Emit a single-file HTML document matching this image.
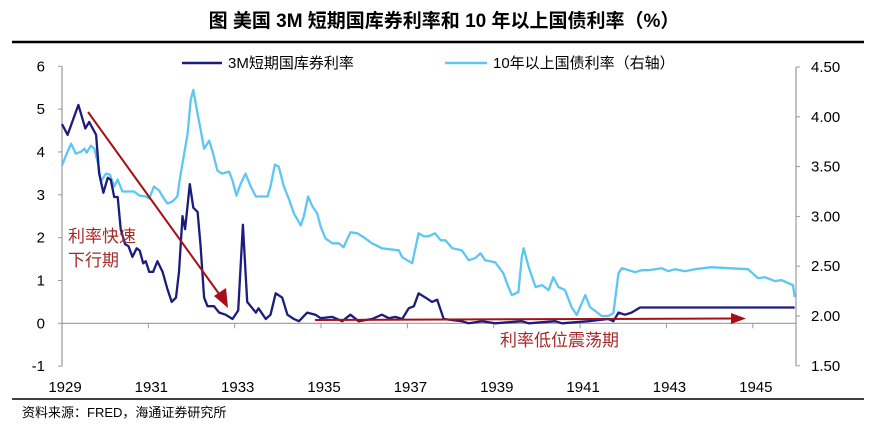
<!DOCTYPE html>
<html><head><meta charset="utf-8"><style>
body{margin:0;background:#fff;}
svg text{font-family:"Liberation Sans","Noto Sans CJK SC",sans-serif;}
</style></head><body>
<svg width="888" height="433" xmlns="http://www.w3.org/2000/svg">
<text x="444" y="27" text-anchor="middle" font-size="19" font-weight="bold" fill="#000">图  美国 3M 短期国库券利率和 10 年以上国债利率（%）</text>
<line x1="12" y1="42" x2="864" y2="42" stroke="#000" stroke-width="2.5"/>
<line x1="12" y1="399" x2="864" y2="399" stroke="#000" stroke-width="1.5"/>
<text x="22" y="417" font-size="13" fill="#000">资料来源：FRED，海通证券研究所</text>
<g id="axes"></g>
<g id="series"></g>
<g>
<line x1="182" y1="63" x2="222" y2="63" stroke="#1c1c7e" stroke-width="2.5"/>
<text x="228" y="68" font-size="15">3M短期国库券利率</text>
<line x1="445" y1="63" x2="487" y2="63" stroke="#5ec6f2" stroke-width="2.5"/>
<text x="493" y="68" font-size="15">10年以上国债利率（右轴）</text>
</g>
<g>
<line x1="88" y1="112" x2="222" y2="298" stroke="#a50f15" stroke-width="2"/>
<polygon points="228,308 214,296 226,288" fill="#a50f15"/>
<text x="68" y="242" font-size="17" fill="#a52a2a">利率快速</text>
<text x="68" y="266" font-size="17" fill="#a52a2a">下行期</text>
<line x1="315" y1="320" x2="732" y2="318.5" stroke="#a50f15" stroke-width="2"/>
<polygon points="746,318.5 731,313 731,324" fill="#a50f15"/>
<text x="500" y="346" font-size="17" fill="#a52a2a">利率低位震荡期</text>
</g>
</svg>
<script>
const shortYears=[1929.00,1929.13,1929.38,1929.54,1929.63,1929.79,1929.86,1929.96,1930.06,1930.13,1930.21,1930.29,1930.36,1930.46,1930.54,1930.63,1930.73,1930.80,1930.88,1930.94,1931.02,1931.11,1931.21,1931.33,1931.44,1931.54,1931.64,1931.71,1931.79,1931.85,1931.96,1932.04,1932.14,1932.21,1932.29,1932.37,1932.52,1932.64,1932.79,1932.95,1933.08,1933.19,1933.29,1933.41,1933.49,1933.55,1933.72,1933.83,1933.95,1934.10,1934.22,1934.37,1934.49,1934.68,1934.87,1934.99,1935.26,1935.49,1935.68,1935.87,1936.18,1936.41,1936.57,1936.72,1936.88,1937.03,1937.15,1937.26,1937.42,1937.57,1937.69,1937.84,1938.26,1938.42,1938.73,1939.03,1939.65,1939.81,1940.42,1940.58,1941.19,1941.65,1941.77,1941.89,1942.04,1942.19,1942.39,1945.97];
const shortRates=[4.65,4.40,5.10,4.55,4.70,4.40,3.50,3.05,3.40,3.35,2.95,2.95,2.20,1.85,1.80,1.55,1.75,1.70,1.40,1.45,1.20,1.20,1.45,1.20,0.80,0.50,0.60,1.20,2.50,2.20,3.25,2.70,2.60,1.80,0.60,0.40,0.40,0.25,0.20,0.10,0.30,2.30,0.50,0.35,0.25,0.35,0.10,0.20,0.70,0.60,0.20,0.10,0.05,0.25,0.20,0.12,0.15,0.05,0.20,0.05,0.10,0.20,0.12,0.15,0.10,0.35,0.40,0.70,0.60,0.50,0.55,0.10,0.05,0.00,0.05,0.00,0.05,0.00,0.05,0.00,0.05,0.10,0.05,0.25,0.20,0.25,0.37,0.37];
const longYears=[1929.00,1929.09,1929.21,1929.32,1929.44,1929.52,1929.57,1929.67,1929.75,1929.85,1929.90,1930.02,1930.11,1930.21,1930.29,1930.40,1930.67,1930.79,1930.94,1931.02,1931.13,1931.25,1931.33,1931.44,1931.56,1931.67,1931.75,1931.83,1931.91,1931.98,1932.04,1932.14,1932.21,1932.29,1932.41,1932.48,1932.60,1932.71,1932.87,1932.95,1933.04,1933.14,1933.25,1933.37,1933.49,1933.76,1933.83,1933.93,1934.02,1934.14,1934.26,1934.37,1934.53,1934.60,1934.70,1934.80,1934.91,1934.99,1935.10,1935.26,1935.41,1935.52,1935.68,1935.84,1935.99,1936.18,1936.41,1936.80,1936.88,1937.11,1937.26,1937.38,1937.49,1937.64,1937.77,1937.88,1938.04,1938.26,1938.42,1938.57,1938.69,1938.80,1939.03,1939.22,1939.34,1939.42,1939.57,1939.65,1939.69,1939.81,1939.97,1940.12,1940.27,1940.38,1940.50,1940.65,1940.80,1940.92,1941.12,1941.23,1941.50,1941.65,1941.77,1941.89,1941.97,1942.12,1942.27,1942.43,1942.58,1942.89,1943.04,1943.20,1943.43,1943.66,1944.04,1944.43,1944.89,1945.12,1945.28,1945.51,1945.66,1945.82,1945.93,1945.97];
const longRates=[3.51,3.61,3.73,3.63,3.65,3.68,3.64,3.71,3.68,3.50,3.35,3.43,3.42,3.30,3.37,3.25,3.25,3.21,3.20,3.18,3.30,3.26,3.20,3.13,3.15,3.20,3.43,3.63,3.83,4.17,4.27,4.03,3.87,3.68,3.76,3.66,3.46,3.43,3.45,3.36,3.21,3.33,3.43,3.30,3.20,3.20,3.30,3.52,3.50,3.30,3.17,3.03,2.91,3.00,3.20,3.10,3.03,2.90,2.78,2.73,2.73,2.69,2.84,2.83,2.79,2.73,2.68,2.66,2.59,2.53,2.83,2.80,2.80,2.83,2.76,2.76,2.68,2.66,2.56,2.58,2.63,2.56,2.54,2.43,2.29,2.21,2.24,2.59,2.68,2.49,2.29,2.31,2.26,2.39,2.29,2.26,2.09,2.01,2.21,2.09,2.00,2.00,2.03,2.43,2.48,2.46,2.44,2.46,2.46,2.48,2.45,2.47,2.45,2.47,2.49,2.48,2.47,2.38,2.39,2.35,2.36,2.33,2.31,2.19];
const leftTicks=[6,5,4,3,2,1,0,-1];
const rightTicks=[4.5,4.0,3.5,3.0,2.5,2.0,1.5];
const xTickYears=[1929,1931,1933,1935,1937,1939,1941,1943,1945];

const NS='http://www.w3.org/2000/svg';
const X0=62,X1=796;
const xs=y=>X0+(y-1929)/(1946-1929)*(X1-X0);
const yl=v=>323.3-v*42.83;
const yr=v=>316-(v-2)*99.6;
function mk(tag,attrs,parent){const e=document.createElementNS(NS,tag);for(const k in attrs)e.setAttribute(k,attrs[k]);parent.appendChild(e);return e;}
const ax=document.getElementById('axes');
const G='#999';
let e=mk('line',{x1:X0,y1:yl(6),x2:X0,y2:yl(-1),stroke:G,'stroke-width':1.2},ax);


e=mk('line',{x1:X1,y1:yr(4.5),x2:X1,y2:yr(1.5),stroke:G,'stroke-width':1.2},ax);


e=mk('line',{x1:X0,y1:yl(0),x2:X1,y2:yl(0),stroke:G,'stroke-width':1.2},ax);


leftTicks.forEach(v=>{
 const t=mk('line',{x1:X0-4,y1:yl(v),x2:X0,y2:yl(v),stroke:G},ax);
 
 
 const l=mk('text',{x:X0-17,y:yl(v)+5,'font-size':15,'text-anchor':'end'},ax);
 l.textContent=v;
 
 
});
rightTicks.forEach(v=>{
 const t=mk('line',{x1:X1,y1:yr(v),x2:X1+4,y2:yr(v),stroke:G},ax);
 
 
 const l=mk('text',{x:X1+15,y:yr(v)+5,'font-size':15},ax);
 l.textContent=v.toFixed(2);
 
 
});
xTickYears.forEach(v=>{
 const t=mk('line',{x1:xs(v),y1:yl(0),x2:xs(v),y2:yl(0)+5,stroke:G},ax);
 
 
 const l=mk('text',{x:xs(v)+3,y:392,'font-size':15,'text-anchor':'middle'},ax);
 l.textContent=v;
 
 
});
const sg=document.getElementById('series');
let p=mk('polyline',{points:longYears.map((y,i)=>xs(y).toFixed(1)+','+yr(longRates[i]).toFixed(1)).join(' '),fill:'none',stroke:'#5ec6f2','stroke-width':2.3,'stroke-linejoin':'round'},sg);


p=mk('polyline',{points:shortYears.map((y,i)=>xs(y).toFixed(1)+','+yl(shortRates[i]).toFixed(1)).join(' '),fill:'none',stroke:'#1c1c7e','stroke-width':2.3,'stroke-linejoin':'round'},sg);


</script>
</body></html>
